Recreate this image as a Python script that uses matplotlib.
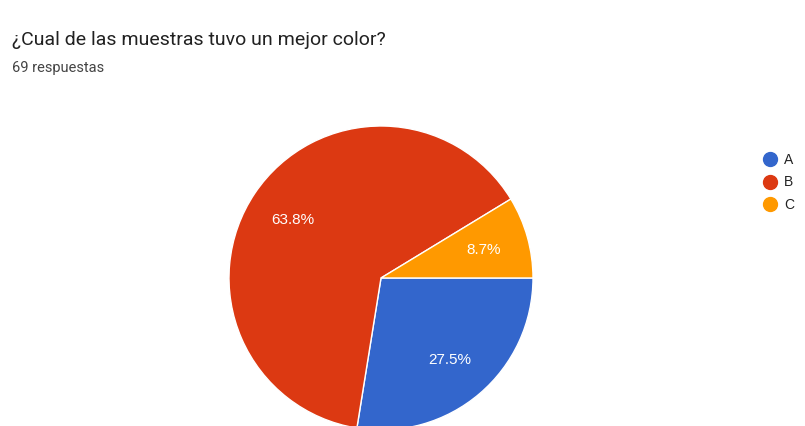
import matplotlib
matplotlib.use("Agg")
import matplotlib.pyplot as plt
from matplotlib.lines import Line2D

plt.rcParams['font.family'] = ['Roboto', 'DejaVu Sans']

title = "¿Cual de las muestras tuvo un mejor color?"
subtitle = "69 respuestas"
labels = ["A", "B", "C"]
counts = [19, 44, 6]
colors = ["#3366cc", "#dc3912", "#ff9900"]

W, H = 805, 427
fig = plt.figure(figsize=(W / 100, H / 100), dpi=100)
ax = fig.add_axes([0, 0, 1, 1])

wedges, texts, autotexts = ax.pie(
    counts, colors=colors, startangle=0, counterclock=False,
    center=(381, H - 279), radius=152, autopct='%1.1f%%', pctdistance=0.7,
    wedgeprops={'edgecolor': 'white', 'linewidth': 1},
    textprops={'color': 'white', 'fontsize': 11,
               'family': ['Liberation Sans', 'DejaVu Sans']},
    frame=True)
ax.set_xlim(0, W)
ax.set_ylim(0, H)
ax.set_aspect('equal')
ax.axis('off')

fig.text(12 / W, 1 - 40 / H, title, fontsize=14, color='#212121', va='center')
fig.text(12 / W, 1 - 68 / H, subtitle, fontsize=10.5, color='#444444', va='center')

# legend
for i, (lab, col) in enumerate(zip(labels, colors)):
    y = 1 - (160 + i * 22.5) / H
    fig.add_artist(Line2D([770 / W], [y], marker='o', markersize=10,
                          color=col, linestyle='none'))
    fig.text(784 / W, y, lab, fontsize=10, color='#222222', va='center',
             family=['Liberation Sans', 'DejaVu Sans'])

fig.savefig("out.png", dpi=100)
